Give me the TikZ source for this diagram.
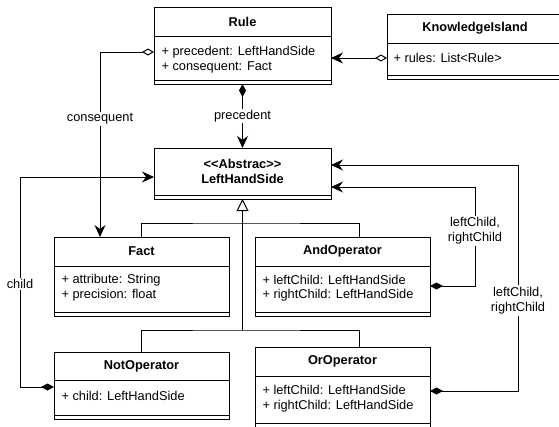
\documentclass[tikz,border=0pt]{standalone}
\usepackage{fontspec}
\setmainfont{Liberation Sans}
\usetikzlibrary{arrows.meta,calc}

\newcommand{\umlfont}{\fontsize{12.8}{15.4}\selectfont}

\tikzset{
  frame/.style={draw=black, line width=1pt, inner sep=0pt, outer sep=0pt, anchor=north west},
  ctitle/.style={font=\umlfont\bfseries, align=center, inner sep=0pt},
  cattr/.style={font=\umlfont, anchor=west, inner sep=0pt},
  lbl/.style={font=\umlfont, fill=white, inner sep=1.5pt, align=center},
  headtip/.tip={Stealth[length=12pt,width=11pt,inset=4pt]},
  aggr/.style={{Diamond[fill=white,length=12pt,width=7pt]}-headtip},
  compo/.style={{Diamond[length=13pt,width=7pt]}-headtip},
  gen/.style={-{Triangle[fill=white,length=12pt,width=12pt]}},
}

% #1 name, #2 left, #3 top, #4 right, #5 header divider, #6 bottom, #7 title
\newcommand{\umlclass}[7]{%
  \node[frame, minimum width={(#4-#2)*1pt}, minimum height={(#6-#3)*1pt}] (#1) at (#2,#3) {};
  \draw (#2,#5) -- (#4,#5);
  \draw (#2,#6-4) -- (#4,#6-4);
  \node[ctitle] (#1-title) at ({(#2+#4)/2},{(#3+#5)/2}) {#7};
}

\begin{document}
\begin{tikzpicture}[x=1pt,y=-1pt,line width=1pt]
  \fill[white] (0,0) rectangle (559,426);
  \useasboundingbox (0,0) rectangle (559,426);

  % classes
  \umlclass{rule}{154}{7}{331}{36}{84}{Rule}
  \node[cattr] (ruleA1) at (161,52) {+ precedent: LeftHandSide};
  \node[cattr] (ruleA2) at (161,67) {+ consequent: Fact};

  \umlclass{know}{387}{14}{563}{43}{79}{KnowledgeIsland}
  \node[cattr] (knowA1) at (393,58) {+ rules: List<Rule>};

  \umlclass{lhs}{154}{148}{331}{195}{199}{<{}<Abstrac>{}>\\LeftHandSide}

  \umlclass{fact}{54}{237}{229}{266}{316}{Fact}
  \node[cattr] (factA1) at (61,280) {+ attribute: String};
  \node[cattr] (factA2) at (61,295) {+ precision: float};

  \umlclass{andop}{255}{237}{430}{266}{316}{AndOperator}
  \node[cattr] (andA1) at (262,280) {+ leftChild: LeftHandSide};
  \node[cattr] (andA2) at (262,295) {+ rightChild: LeftHandSide};

  \umlclass{notop}{54}{352}{229}{380}{419}{NotOperator}
  \node[cattr] (notA1) at (61,396) {+ child: LeftHandSide};

  \umlclass{orop}{255}{347}{430}{376}{427}{OrOperator}
  \node[cattr] (orA1) at (262,390) {+ leftChild: LeftHandSide};
  \node[cattr] (orA2) at (262,406) {+ rightChild: LeftHandSide};

  % associations
  \draw[aggr] (know.west |- knowA1) -- (rule.east |- knowA1);
  \draw[aggr] (rule.west |- ruleA1) -| node[lbl,pos=0.68]{consequent} ([xshift=46pt]fact.north west);
  \draw[compo] (rule.south) -- node[lbl]{precedent} (lhs.north);

  % generalisation tree
  \path (lhs.south) ++(0,24) coordinate (j1);
  \path (lhs.south) ++(0,131) coordinate (j2);
  \draw (fact.north) |- (j1) -| ([xshift=104pt]andop.north west);
  \draw (notop.north) |- (j2) -| ([xshift=104pt]orop.north west);
  \draw[gen] (j2) -- (lhs.south);

  % child links back to LeftHandSide
  \coordinate (cb) at (20,177);
  \draw[compo] ($(notop.north west)+(0,35)$) -| node[lbl,pos=0.745]{child} (cb) -- (lhs.west |- cb);

  \coordinate (ab) at (475,187);
  \draw[compo] ($(andop.north east)+(0,49)$) -| node[lbl,pos=0.778]{leftChild,\\rightChild} (ab) -- (lhs.east |- ab);

  \coordinate (ob) at (518,165);
  \draw[compo] ($(orop.north east)+(0,44)$) -| node[lbl,pos=0.70]{leftChild,\\rightChild} (ob) -- (lhs.east |- ob);
\end{tikzpicture}
\end{document}
